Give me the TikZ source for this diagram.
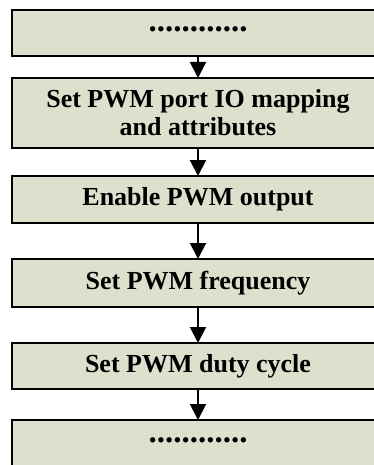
\documentclass[tikz,border=0pt]{standalone}
\usepackage{fontspec}
\setmainfont{Liberation Serif}
\usepackage{tikz}
\usepackage{xcolor}
\usetikzlibrary{arrows.meta}

\definecolor{boxfill}{RGB}{221,224,204}

\tikzset{
  stepbox/.style={draw=black, line width=2pt, fill=boxfill, minimum width=372pt,
    inner sep=0pt, align=center, font=\fontsize{26}{28}\selectfont\bfseries},
  dotsbox/.style={stepbox, font=\fontsize{33}{33}\selectfont\bfseries},
  flowarrow/.style={draw=black, line width=2pt, -{Triangle[width=16pt,length=16pt]}, shorten >=-1pt}
}

\begin{document}
\begin{tikzpicture}[x=1pt,y=-1pt]
\useasboundingbox (0,0) rectangle (374,465);
\clip (0,0) rectangle (374,465);
\node[dotsbox, minimum height=46pt] (dotsTop) at (198,33) {\raisebox{0.22em}{............}};
\node[stepbox, minimum height=70pt] (mapIO) at (198,113) {Set PWM port IO mapping\\and attributes};
\node[stepbox, minimum height=47pt] (enablePWM) at (198,199.5) {Enable PWM output};
\node[stepbox, minimum height=48pt] (setFreq) at (198,283) {Set PWM frequency};
\node[stepbox, minimum height=46pt] (setDuty) at (198,366) {Set PWM duty cycle};
\node[dotsbox, minimum height=47pt] (dotsEnd) at (198,443.5) {\raisebox{0.22em}{............}};
\draw[flowarrow] (dotsTop) -- (mapIO);
\draw[flowarrow] (mapIO) -- (enablePWM);
\draw[flowarrow] (enablePWM) -- (setFreq);
\draw[flowarrow] (setFreq) -- (setDuty);
\draw[flowarrow] (setDuty) -- (dotsEnd);
\end{tikzpicture}
\end{document}
